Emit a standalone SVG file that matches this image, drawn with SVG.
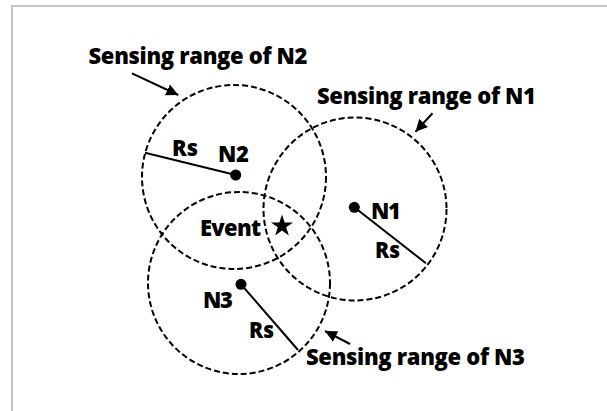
<svg xmlns="http://www.w3.org/2000/svg" width="607" height="411" viewBox="0 0 607 411">
<defs>
<marker id="ah" viewBox="0 0 10 10" refX="10" refY="5" markerWidth="6" markerHeight="6" markerUnits="strokeWidth" orient="auto">
<path d="M0,0 L10,5 L0,10 Z" fill="#000"/>
</marker>
<style>
.rng{fill:none;stroke:#000;stroke-width:2;stroke-dasharray:6 3}
.rad{stroke:#000;stroke-width:2;fill:none}
.dot{fill:#000}
.arr{stroke:#000;stroke-width:2;fill:none;marker-end:url(#ah)}
text{font-family:"Open Sans","Noto Sans","Liberation Sans",sans-serif;font-weight:800;font-size:22px;fill:#000}
</style>
</defs>
<rect width="607" height="411" fill="#fff"/>
<path d="M12,411 L12,6 L607,6" fill="none" stroke="#c4c4c4" stroke-width="2"/>
<g id="N2">
<circle class="rng" cx="234" cy="177" r="92"/>
<line class="rad" x1="145" y1="152.7" x2="235.7" y2="175"/>
<circle class="dot" cx="235.7" cy="175" r="5.5"/>
<text x="172" y="156" textLength="26" lengthAdjust="spacingAndGlyphs">Rs</text>
<text x="218" y="162" textLength="31">N2</text>
</g>
<g id="N1">
<circle class="rng" cx="355" cy="209" r="91.5"/>
<line class="rad" x1="354.3" y1="207.3" x2="426" y2="263.3"/>
<circle class="dot" cx="354.3" cy="207.3" r="5.5"/>
<text x="371" y="218.5" textLength="30">N1</text>
<text x="375" y="258" textLength="25" lengthAdjust="spacingAndGlyphs">Rs</text>
</g>
<g id="N3">
<circle class="rng" cx="239" cy="283" r="91"/>
<line class="rad" x1="241" y1="284.3" x2="298" y2="350"/>
<circle class="dot" cx="241" cy="284.3" r="5.5"/>
<text x="203" y="308" textLength="30">N3</text>
<text x="249" y="337.5" textLength="25" lengthAdjust="spacingAndGlyphs">Rs</text>
</g>
<g id="event">
<polygon points="282,214.4 284.6,222.42 293.03,222.42 286.21,227.37 288.82,235.38 282,230.43 275.18,235.38 277.79,227.37 270.97,222.42 279.4,222.42" fill="#000"/>
<text x="200" y="235.5" textLength="61">Event</text>
</g>
<g id="labels">
<text x="88.5" y="63.5" textLength="219">Sensing range of N2</text>
<text x="317" y="104" textLength="219">Sensing range of N1</text>
<text x="306" y="365" textLength="219">Sensing range of N3</text>
</g>
<g id="connectors">
<line class="arr" x1="132" y1="73.3" x2="178.3" y2="95"/>
<line class="arr" x1="432.5" y1="113.3" x2="415.5" y2="131.7"/>
<line class="arr" x1="350" y1="344" x2="325" y2="331"/>
</g>
</svg>
